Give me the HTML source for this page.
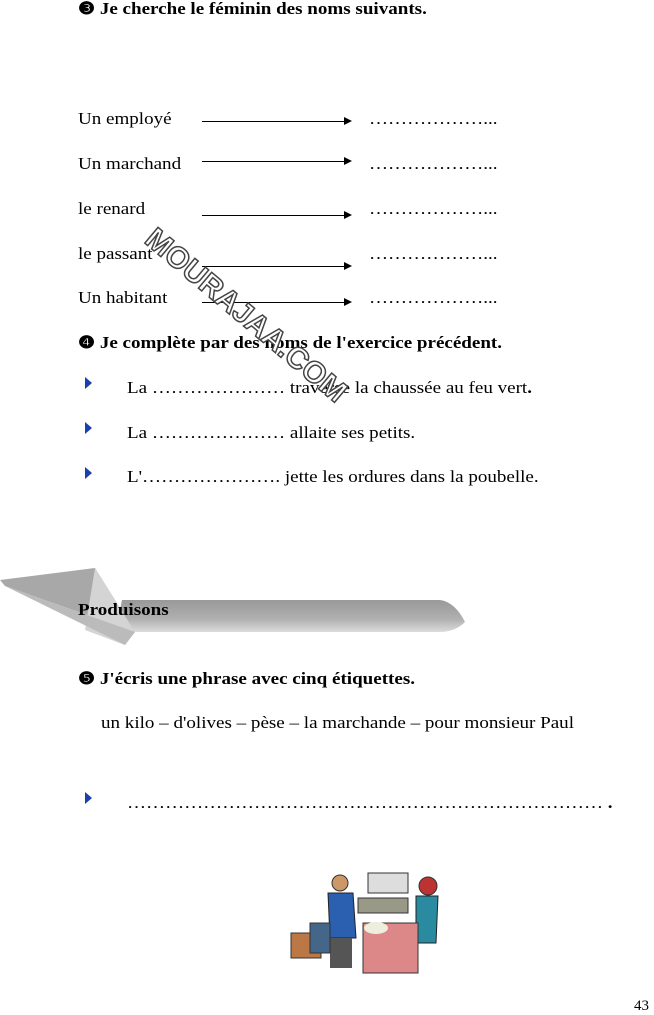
<!DOCTYPE html>
<html><head><meta charset="utf-8"><style>
body{margin:0;width:654px;height:1013px;background:#fff;position:relative;overflow:hidden;font-family:"Liberation Serif",serif;font-size:17px;color:#000}
.t{position:absolute;white-space:nowrap;line-height:18px;transform:scaleX(1.12);transform-origin:0 0}
.b{font-weight:bold}
.ar{position:absolute;height:1px;background:#000}
.ar:after{content:"";position:absolute;right:-2px;top:-4px;border-left:8px solid #000;border-top:4.5px solid transparent;border-bottom:4.5px solid transparent}
.tri{position:absolute;width:0;height:0;border-left:7px solid #1a3fb0;border-top:6px solid transparent;border-bottom:6px solid transparent}
</style></head><body>
<div class="t b" style="left:78px;top:0px">❸ Je cherche le féminin des noms suivants.</div>

<div class="t" style="left:78px;top:110px">Un employé</div>
<div class="t" style="left:78px;top:155px">Un marchand</div>
<div class="t" style="left:78px;top:200px">le renard</div>
<div class="t" style="left:78px;top:245px">le passant</div>
<div class="t" style="left:78px;top:289px">Un habitant</div>
<div class="ar" style="left:202px;top:121px;width:148px"></div>
<div class="ar" style="left:202px;top:161px;width:148px"></div>
<div class="ar" style="left:202px;top:215px;width:148px"></div>
<div class="ar" style="left:202px;top:266px;width:148px"></div>
<div class="ar" style="left:202px;top:302px;width:148px"></div>
<div class="t" style="left:369px;top:110px">………………...</div>
<div class="t" style="left:369px;top:155px">………………...</div>
<div class="t" style="left:369px;top:200px">………………...</div>
<div class="t" style="left:369px;top:245px">………………...</div>
<div class="t" style="left:369px;top:289px">………………...</div>

<div class="t b" style="left:78px;top:334px">❹ Je complète par des noms de l'exercice précédent.</div>
<div class="tri" style="left:85px;top:377px"></div>
<div class="tri" style="left:85px;top:422px"></div>
<div class="tri" style="left:85px;top:467px"></div>
<div class="t" style="left:127px;top:379px">La ………………… traverse la chaussée au feu vert<b>.</b></div>
<div class="t" style="left:127px;top:424px">La ………………… allaite ses petits.</div>
<div class="t" style="left:127px;top:468px">L'…………………. jette les ordures dans la poubelle.</div>

<div style="position:absolute;left:160px;top:222px;font-family:'Liberation Sans',sans-serif;font-weight:bold;font-size:30px;color:#fff;-webkit-text-stroke:1.5px #444;transform:rotate(40deg);transform-origin:0 0;white-space:nowrap;letter-spacing:0px">MOURAJAA.COM</div>

<svg style="position:absolute;left:0;top:560px" width="480" height="100">
<defs><linearGradient id="g" x1="0" y1="0" x2="0" y2="1"><stop offset="0" stop-color="#999"/><stop offset="0.6" stop-color="#b0b0b0"/><stop offset="1" stop-color="#dcdcdc"/></linearGradient></defs>
<path d="M122 40 L440 40 Q455 42 465 62 Q455 72 440 72 L122 72 Q118 56 122 40Z" fill="url(#g)"/>
<polygon points="0,20 95,8 135,72 5,26" fill="#a8a8a8"/>
<polygon points="95,8 135,72 125,85 85,70" fill="#d4d4d4"/>
<polygon points="5,26 135,72 125,85" fill="#bbb"/>
</svg>
<div class="t b" style="left:78px;top:601px">Produisons</div>

<div class="t b" style="left:78px;top:670px">❺ J'écris une phrase avec cinq étiquettes.</div>
<div class="t" style="left:101px;top:714px">un kilo – d'olives – pèse – la marchande – pour monsieur Paul</div>
<div class="tri" style="left:85px;top:792px"></div>
<div class="t" style="left:127px;top:794px">………………………………………………………………… <b>.</b></div>

<svg style="position:absolute;left:288px;top:868px" width="155" height="110">
<rect x="80" y="5" width="40" height="20" fill="#ddd" stroke="#333"/>
<rect x="70" y="30" width="50" height="15" fill="#998" stroke="#333"/>
<circle cx="52" cy="15" r="8" fill="#c96" stroke="#333"/>
<path d="M40 25 L65 25 L68 70 L42 70Z" fill="#2b5fb0" stroke="#222"/>
<rect x="42" y="70" width="22" height="30" fill="#555"/>
<circle cx="140" cy="18" r="9" fill="#b33" stroke="#333"/>
<path d="M128 28 L150 28 L148 75 L128 75Z" fill="#2a8aa0" stroke="#222"/>
<rect x="75" y="55" width="55" height="50" fill="#d88" stroke="#333"/>
<ellipse cx="88" cy="60" rx="12" ry="6" fill="#eed"/>
<rect x="3" y="65" width="30" height="25" fill="#b74" stroke="#333"/>
<rect x="22" y="55" width="20" height="30" fill="#468" stroke="#333"/>
</svg>

<div class="t" style="left:634px;top:997px;font-size:15px;transform:none">43</div>
</body></html>
